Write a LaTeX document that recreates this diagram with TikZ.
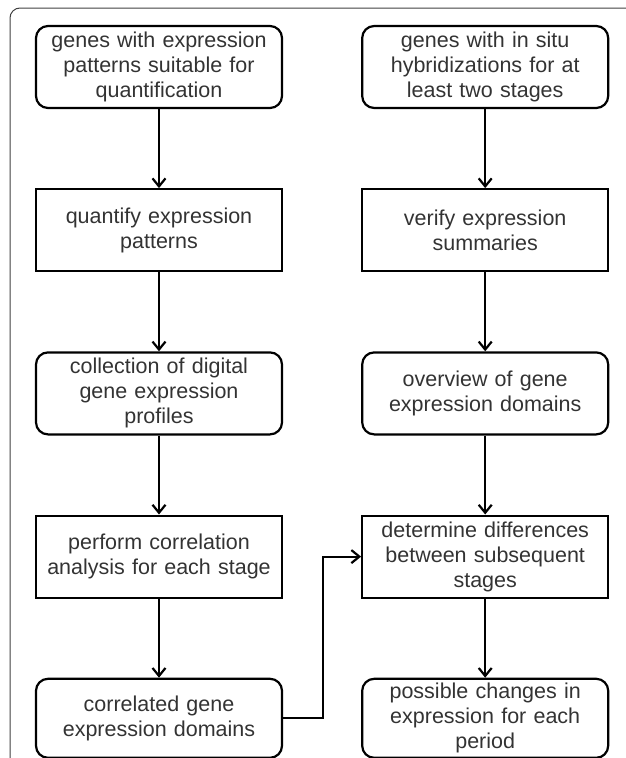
\documentclass[tikz,border=0pt]{standalone}
\usepackage{fontspec}
\setmainfont{Liberation Sans}
\usetikzlibrary{arrows.meta, positioning}
\definecolor{textgray}{HTML}{333333}
\tikzstyle{flow}=[x=1pt, y=1pt, line width=2.2pt, >={Straight Barb[length=8pt,width=13pt]},
  font=\fontsize{21.5}{25}\selectfont, node distance=79pt and 78pt]
\tikzstyle{stepbox}=[draw, text=textgray, text width=236pt, align=center,
  minimum width=246pt, minimum height=82pt, inner sep=0pt]
\tikzstyle{roundbox}=[stepbox, rounded corners=12pt]

\begin{document}
\begin{tikzpicture}[flow]
  \useasboundingbox (0,0) rectangle (625,-758);
  \draw[black!75, line width=1pt, rounded corners=10pt] (10,-760) -- (10,-8) -- (627,-8);
  \node[roundbox] (l1) at (159,-67) {genes with expression\\patterns suitable for\\quantification};
  \node[stepbox]  (l2) [below=of l1] {quantify expression\\patterns};
  \node[roundbox] (l3) [below=of l2] {collection of digital\\gene expression\\profiles};
  \node[stepbox]  (l4) [below=of l3] {perform correlation\\analysis for each stage};
  \node[roundbox, minimum height=79pt] (l5) [below=of l4] {correlated gene\\expression domains};
  \node[roundbox] (r1) [right=of l1] {genes with in situ\\hybridizations for at\\least two stages};
  \node[stepbox]  (r2) [below=of r1] {verify expression\\summaries};
  \node[roundbox] (r3) [below=of r2] {overview of gene\\expression domains};
  \node[stepbox]  (r4) [below=of r3] {determine differences\\between subsequent\\stages};
  \node[roundbox, minimum height=79pt] (r5) [below=of r4] {possible changes in\\expression for each\\period};
  \foreach \a/\b in {l1/l2, l2/l3, l3/l4, l4/l5, r1/r2, r2/r3, r3/r4, r4/r5}
    \draw[->] (\a) -- (\b);
  \draw[->] (l5.east) -- ++(40,0) |- (r4.west);
\end{tikzpicture}
\end{document}
